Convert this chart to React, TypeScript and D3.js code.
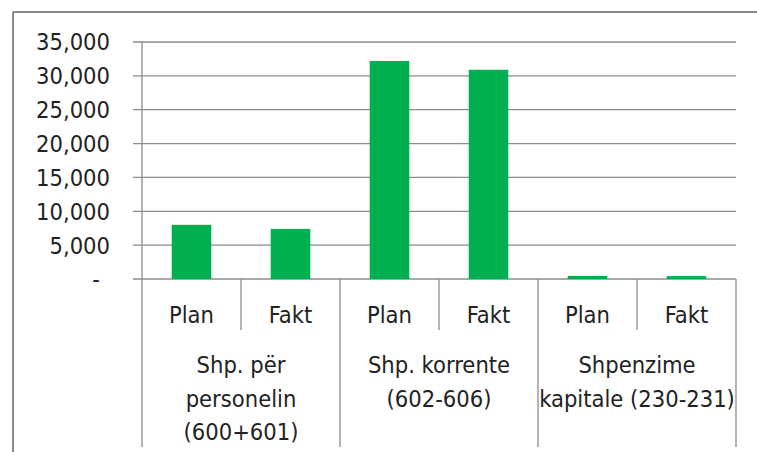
import React from "react";
import * as d3 from "d3";

const groupLines = [
  ["Shp. për", "personelin", "(600+601)"],
  ["Shp. korrente", "(602-606)"],
  ["Shpenzime", "kapitale (230-231)"],
];
const seriesNames = ["Plan", "Fakt"];
const planValues = [8000, 32200, 450];
const faktValues = [7400, 30900, 430];
const yTicks = [0, 5000, 10000, 15000, 20000, 25000, 30000, 35000];

const W = 757;
const H = 452;
const left = 142;
const right = 736;
const top = 42;
const bottom = 279;
const font = "'DejaVu Sans Condensed', sans-serif";
const fs = 23.5;

export default function App() {
  const bars = groupLines.flatMap((g, i) => [
    { key: `${i}-Plan`, label: seriesNames[0], value: planValues[i], group: i },
    { key: `${i}-Fakt`, label: seriesNames[1], value: faktValues[i], group: i },
  ]);

  const x = d3
    .scaleBand()
    .domain(bars.map((b) => b.key))
    .range([left, right])
    .paddingInner(0.6)
    .paddingOuter(0.3);
  const y = d3.scaleLinear().domain([0, 35000]).range([bottom, top]);
  const fmt = d3.format(",");
  const step = x.step();

  return (
    <svg
      width={W}
      height={H}
      style={{ position: "absolute", left: 0, top: 0, background: "#fff" }}
    >
      {/* outer frame */}
      <line x1={13} y1={12} x2={W} y2={12} stroke="#888" strokeWidth={2} />
      <line x1={13} y1={12} x2={13} y2={H} stroke="#888" strokeWidth={2} />

      {/* gridlines + y labels */}
      {yTicks.map((t) => (
        <g key={t}>
          <line x1={left - 9} x2={right} y1={y(t)} y2={y(t)} stroke="#8c8c8c" strokeWidth={1.3} />
          <text
            x={t === 0 ? 100 : 110}
            y={y(t)}
            dy="0.36em"
            textAnchor="end"
            fontFamily={font}
            fontSize={fs}
            fill="#222"
          >
            {t === 0 ? "-" : fmt(t)}
          </text>
        </g>
      ))}
      <line x1={left} x2={left} y1={top} y2={bottom} stroke="#8c8c8c" strokeWidth={1.3} />

      {/* bars */}
      {bars.map((b) => (
        <rect
          key={b.key}
          x={x(b.key)}
          y={y(b.value)}
          width={x.bandwidth()}
          height={bottom - y(b.value)}
          fill="#00b050"
        />
      ))}

      {/* category separators */}
      {d3.range(7).map((i) => {
        const xx = left + i * step;
        const long = i % 2 === 0;
        return (
          <line
            key={i}
            x1={xx}
            x2={xx}
            y1={bottom}
            y2={long ? H - 5 : 330}
            stroke="#8c8c8c"
            strokeWidth={1.3}
          />
        );
      })}

      {/* series labels */}
      {bars.map((b) => (
        <text
          key={b.key + "l"}
          x={(x(b.key) || 0) + x.bandwidth() / 2}
          y={315}
          dy="0.36em"
          textAnchor="middle"
          fontFamily={font}
          fontSize={fs}
          fill="#222"
        >
          {b.label}
        </text>
      ))}

      {/* group labels */}
      {groupLines.map((lines, i) => (
        <text
          key={i}
          x={left + step * (2 * i + 1)}
          textAnchor="middle"
          fontFamily={font}
          fontSize={fs}
          fill="#222"
        >
          {lines.map((ln, j) => (
            <tspan key={j} x={left + step * (2 * i + 1)} y={365 + j * 33.5} dy="0.36em">
              {ln}
            </tspan>
          ))}
        </text>
      ))}
    </svg>
  );
}
